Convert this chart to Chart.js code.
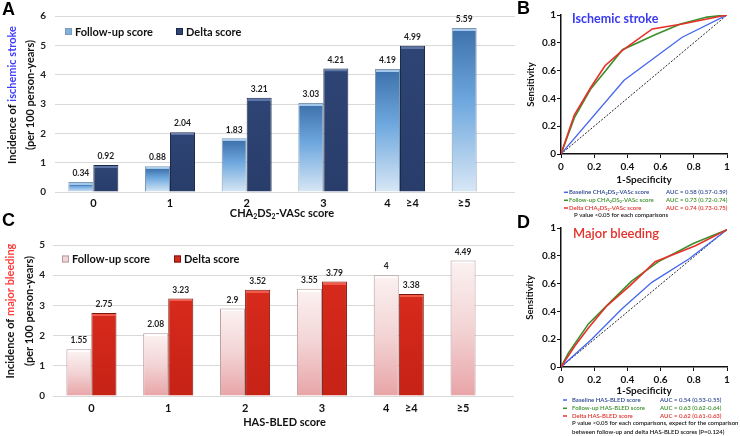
<!DOCTYPE html>
<html>
<head>
<meta charset="utf-8">
<script src="https://cdn.jsdelivr.net/npm/chart.js"></script>
<style>
  html, body { margin: 0; padding: 0; background: #fff; }
  #wrap { position: relative; width: 740px; height: 436px; overflow: hidden; }
  canvas { position: absolute; }
</style>
</head>
<body>
<div id="wrap">
  <canvas id="chartA" width="520" height="222" style="left:0;top:0"></canvas>
  <canvas id="chartC" width="520" height="228" style="left:0;top:208px"></canvas>
  <canvas id="chartB" width="240" height="222" style="left:500px;top:0"></canvas>
  <canvas id="chartD" width="240" height="222" style="left:500px;top:214px"></canvas>
</div>
<script>
// ---- data ----
const scoreGroupTicks = ['0', '1', '2', '3', '', ''];
const followUpTicks = ['', '', '', '', '4', '≥5'];
const deltaTicks = ['', '', '', '', '≥4', ''];

const strokeFollowUp = [0.34, 0.88, 1.83, 3.03, 4.19, 5.59];
const strokeDelta = [0.92, 2.04, 3.21, 4.21, 4.99, null];
const bleedFollowUp = [1.55, 2.08, 2.9, 3.55, 4, 4.49];
const bleedDelta = [2.75, 3.23, 3.52, 3.79, 3.38, null];

const barLegend = ['Follow-up score', 'Delta score'];

// ROC curves (1-specificity / sensitivity)
const diagFpr = [0, 1];
const diagTpr = [0, 1];
const strokeBaseFpr = [0, 0.38, 0.73, 1];
const strokeBaseTpr = [0, 0.53, 0.84, 1];
const strokeFollowFpr = [0, 0.08, 0.18, 0.27, 0.37, 0.57, 0.72, 0.88, 1];
const strokeFollowTpr = [0, 0.26, 0.47, 0.6, 0.75, 0.86, 0.935, 0.985, 1];
const strokeDeltaFpr = [0, 0.08, 0.18, 0.265, 0.37, 0.55, 0.73, 1];
const strokeDeltaTpr = [0, 0.28, 0.48, 0.635, 0.745, 0.9, 0.935, 1];

const bleedDiagTpr = [0, 0.99];
const bleedBaseFpr = [0, 0.185, 0.366, 0.547, 0.77, 1];
const bleedBaseTpr = [0, 0.2, 0.417, 0.609, 0.777, 0.988];
const bleedFollowFpr = [0, 0.044, 0.165, 0.3, 0.427, 0.587, 0.8, 1];
const bleedFollowTpr = [0, 0.1, 0.31, 0.47, 0.62, 0.758, 0.89, 0.988];
const bleedDeltaFpr = [0, 0.085, 0.165, 0.276, 0.416, 0.567, 0.81, 1];
const bleedDeltaTpr = [0, 0.155, 0.28, 0.44, 0.585, 0.758, 0.873, 0.988];

const strokeRocNames = ['Baseline CHA_2DS_2-VASc score', 'Follow-up CHA_2DS_2-VASc score', 'Delta CHA_2DS_2-VASc score'];
const strokeAuc = ['AUC = 0.58 (0.57-0.59)', 'AUC = 0.73 (0.72-0.74)', 'AUC = 0.74 (0.73-0.75)'];
const strokeNotes = ['P value <0.05 for each comparisons'];
const bleedRocNames = ['Baseline HAS-BLED score', 'Follow-up HAS-BLED score', 'Delta HAS-BLED score'];
const bleedAuc = ['AUC = 0.54 (0.53-0.55)', 'AUC = 0.63 (0.62-0.64)', 'AUC = 0.62 (0.61-0.63)'];
const bleedNotes = ['P value <0.05 for each comparisons, expect for the comparison',
  'between follow-up and delta HAS-BLED scores (P=0.124)'];

const rocLineColors = ['#4466ee', '#3a8f2a', '#e8302a'];
const rocTextColors = ['#2b4590', '#3a8f2a', '#e0302a'];

// ---- helpers ----
function font(size, weight) {
  return (weight || 'bold') + ' ' + size + 'px Lato';
}

// segments: [[text, color], ...]; "_2" marks a subscript 2
function drawRich(ctx, segments, x, y, size, weight, align) {
  const parts = [];
  segments.forEach(([t, c]) => {
    t.split(/(_\d)/).filter(Boolean).forEach(p => {
      if (p[0] === '_') parts.push({ t: p.slice(1), c: c, sub: true });
      else parts.push({ t: p, c: c, sub: false });
    });
  });
  ctx.save();
  ctx.textBaseline = 'middle';
  ctx.textAlign = 'left';
  const fontOf = p => font(p.sub ? size * 0.62 : size, weight);
  const widths = parts.map(p => { ctx.font = fontOf(p); return ctx.measureText(p.t).width; });
  const total = widths.reduce((a, b) => a + b, 0);
  let cx = align === 'center' ? x - total / 2 : x;
  parts.forEach((p, i) => {
    ctx.font = fontOf(p);
    ctx.fillStyle = p.c;
    ctx.fillText(p.t, cx, p.sub ? y + size * 0.3 : y);
    cx += widths[i];
  });
  ctx.restore();
}

// vertical gradient for each bar, with a light strip along its top edge
function barFill(strip, stops) {
  return function (context) {
    const chart = context.chart;
    if (!chart.chartArea || context.raw == null) return stops[0][1];
    const ys = chart.scales.y;
    const top = ys.getPixelForValue(context.raw);
    const bottom = ys.getPixelForValue(0);
    const h = Math.max(bottom - top, 1);
    const g = chart.ctx.createLinearGradient(0, top, 0, bottom);
    const s = Math.min(3 / h, 0.4);
    g.addColorStop(0, strip);
    g.addColorStop(s * 0.99, strip);
    g.addColorStop(s, stops[0][1]);
    stops.forEach(([pos, col]) => { if (pos > s) g.addColorStop(pos, col); });
    return g;
  };
}

function barPanel(canvasId, p) {
  const annotate = {
    id: 'annotate',
    afterDatasetsDraw(chart) {
      const c = chart.ctx, area = chart.chartArea, xs = chart.scales.x;
      const metas = [chart.getDatasetMeta(0), chart.getDatasetMeta(1)];
      c.save();
      c.textAlign = 'center';
      c.textBaseline = 'middle';

      // value labels
      c.font = font(8.5);
      c.fillStyle = '#222';
      metas.forEach((meta, d) => {
        meta.data.forEach((bar, i) => {
          const v = chart.data.datasets[d].data[i];
          if (v == null) return;
          c.fillText(String(v), bar.x, bar.y - 8.5);
        });
      });

      // category labels
      c.font = font(11);
      c.fillStyle = '#111';
      const ty = area.bottom + p.tickGap;
      scoreGroupTicks.forEach((t, i) => { if (t) c.fillText(t, xs.getPixelForValue(i), ty); });
      followUpTicks.forEach((t, i) => { if (t) c.fillText(t, metas[0].data[i].x, ty); });
      deltaTicks.forEach((t, i) => { if (t) c.fillText(t, metas[1].data[i].x, ty); });

      // x title
      drawRich(c, [[p.xTitle, '#111']], (area.left + area.right) / 2 + p.xTitleShift, area.bottom + p.titleGap, 11, 'bold', 'center');

      // y title, two rotated lines
      c.save();
      c.translate(p.yTitleX[0], p.yTitleY);
      c.rotate(-Math.PI / 2);
      drawRich(c, p.yTitle1, 0, 0, 11, 'bold', 'center');
      c.restore();
      c.save();
      c.translate(p.yTitleX[1], p.yTitleY);
      c.rotate(-Math.PI / 2);
      drawRich(c, [['(per 100 person-years)', '#111']], 0, 0, 11, 'bold', 'center');
      c.restore();

      // legend inside plot
      barLegend.forEach((label, i) => {
        const lx = p.legendX[i], ly = p.legendY;
        c.fillStyle = p.legendFill[i];
        c.fillRect(lx, ly - 3.5, 7, 7);
        c.strokeStyle = p.border[i];
        c.lineWidth = 1;
        c.strokeRect(lx + 0.5, ly - 3, 6, 6);
        c.fillStyle = '#111';
        c.font = font(11);
        c.textAlign = 'left';
        c.fillText(label, lx + 10, ly + 0.5);
      });

      // panel letter
      c.font = 'bold 18px "Liberation Sans"';
      c.textAlign = 'left';
      c.fillStyle = '#000';
      c.fillText(p.letter, p.letterX, p.letterY);
      c.restore();
    }
  };

  return new Chart(document.getElementById(canvasId), {
    type: 'bar',
    data: {
      labels: scoreGroupTicks,
      datasets: [
        { label: barLegend[0], data: p.followUp, backgroundColor: p.fill[0], borderColor: p.border[0], borderWidth: 1 },
        { label: barLegend[1], data: p.delta, backgroundColor: p.fill[1], borderColor: p.border[1], borderWidth: 1 }
      ]
    },
    options: {
      responsive: false,
      animation: false,
      devicePixelRatio: 1,
      layout: { padding: { top: p.top, right: p.right, left: 0, bottom: 0 } },
      datasets: { bar: { categoryPercentage: 0.652, barPercentage: 1 } },
      plugins: { legend: { display: false }, tooltip: { enabled: false } },
      scales: {
        x: {
          grid: { display: false },
          border: { display: false },
          ticks: { display: false },
          afterFit: s => { s.height = p.xAxisH; }
        },
        y: {
          min: 0, max: p.yMax,
          ticks: { stepSize: 1, padding: p.yPad, color: '#222', font: { family: 'Lato', weight: 'bold', size: 10 } },
          grid: { color: '#d9d9d9', drawTicks: false },
          border: { display: false },
          afterFit: s => { s.width = p.yAxisW; }
        }
      }
    },
    plugins: [annotate]
  });
}

function rocPanel(canvasId, p) {
  const annotate = {
    id: 'rocText',
    afterDraw(chart) {
      const c = chart.ctx, area = chart.chartArea;
      c.save();
      c.textBaseline = 'middle';

      c.font = p.titleFont;
      c.fillStyle = p.titleColor;
      c.textAlign = 'left';
      c.fillText(p.title, p.titleX, p.titleY);

      c.fillStyle = '#111';
      c.textAlign = 'center';
      c.font = font(10);
      c.fillText('1-Specificity', (area.left + area.right) / 2, area.bottom + p.xTitleGap);
      c.save();
      c.translate(p.yTitleX, (area.top + area.bottom) / 2);
      c.rotate(-Math.PI / 2);
      c.font = font(9.5);
      c.fillText('Sensitivity', 0, 0);
      c.restore();

      // legend block under the plot
      p.names.forEach((name, i) => {
        const ly = p.rowY[i];
        c.strokeStyle = rocLineColors[i];
        c.lineWidth = 1.5;
        c.beginPath();
        c.moveTo(p.dashX, ly);
        c.lineTo(p.dashX + 4, ly);
        c.stroke();
        drawRich(c, [[name, rocTextColors[i]]], p.nameX, ly, 6, '600', 'left');
        drawRich(c, [[p.auc[i], rocTextColors[i]]], p.aucX, ly, 6, '600', 'left');
      });
      p.notes.forEach((note, i) => {
        drawRich(c, [[note, '#111']], p.noteX, p.noteY[i], 6, '600', 'left');
      });

      c.font = 'bold 18px "Liberation Sans"';
      c.textAlign = 'left';
      c.fillStyle = '#000';
      c.fillText(p.letter, p.letterX, p.letterY);
      c.restore();
    }
  };

  const tickFont = { family: 'Lato', weight: 'bold', size: 10 };
  const axis = (afterFit, pad) => ({
    type: 'linear', min: 0, max: 1,
    ticks: {
      stepSize: 0.2, padding: pad, color: '#111', font: tickFont, maxRotation: 0, autoSkip: false,
      callback: v => String(Number(v.toFixed(1)))
    },
    grid: { drawOnChartArea: false, drawTicks: true, tickLength: 4, color: '#111', lineWidth: 1 },
    border: { display: true, color: '#111', width: 1.5 },
    afterFit: afterFit
  });

  return new Chart(document.getElementById(canvasId), {
    type: 'scatter',
    data: {
      datasets: p.series.map(s => ({
        data: s.fpr.map((x, i) => ({ x: x, y: s.tpr[i] })),
        borderColor: s.color,
        borderWidth: s.width,
        borderDash: s.dash || [],
        showLine: true,
        pointRadius: 0,
        fill: false,
        tension: 0
      }))
    },
    options: {
      responsive: false,
      animation: false,
      devicePixelRatio: 1,
      layout: { padding: { top: p.top, right: p.right, left: 0, bottom: 0 } },
      plugins: { legend: { display: false }, tooltip: { enabled: false } },
      scales: {
        x: axis(s => { s.height = p.xAxisH; }, 3),
        y: axis(s => { s.width = p.yAxisW; }, 1)
      }
    },
    plugins: [annotate]
  });
}

// ---- panel A ----
barPanel('chartA', {
  letter: 'A', letterX: 2, letterY: 10,
  followUp: strokeFollowUp, delta: strokeDelta, yMax: 6,
  top: 16, right: 5, yAxisW: 55, xAxisH: 30, yPad: 9,
  tickGap: 11, titleGap: 21, xTitleShift: -3,
  xTitle: 'CHA_2DS_2-VASc score',
  yTitle1: [['Incidence of ', '#111'], ['ischemic stroke', '#3d3dff']],
  yTitleX: [12, 30], yTitleY: 95,
  legendX: [65, 176], legendY: 31.5,
  fill: [
    barFill('#a3c8ec', [[0, '#3f73ad'], [0.45, '#6ea8de'], [1, '#d8e7f5']]),
    barFill('#5d75a7', [[0, '#2e4474'], [1, '#283d6a']])
  ],
  legendFill: ['#7fb0e0', '#2e4474'],
  border: ['#7f98b3', '#1b2a4a']
});

// ---- panel C ----
barPanel('chartC', {
  letter: 'C', letterX: 2, letterY: 13,
  followUp: bleedFollowUp, delta: bleedDelta, yMax: 5,
  top: 37, right: 6, yAxisW: 53, xAxisH: 40, yPad: 8,
  tickGap: 12, titleGap: 26, xTitleShift: 1,
  xTitle: 'HAS-BLED score',
  yTitle1: [['Incidence of ', '#111'], ['major bleeding', '#ff3a3a']],
  yTitleX: [10, 29], yTitleY: 103,
  legendX: [62, 174], legendY: 51,
  fill: [
    barFill('#ffffff', [[0, '#fbf0f0'], [0.5, '#f3d4d5'], [1, '#e8a4a7']]),
    barFill('#f25a4a', [[0, '#d62a1c'], [1, '#c62216']])
  ],
  legendFill: ['#f2d6d7', '#d62a1c'],
  border: ['#b79a9b', '#7d150d']
});

// ---- panel B ----
rocPanel('chartB', {
  letter: 'B', letterX: 17, letterY: 9,
  top: 15, right: 13, yAxisW: 61, xAxisH: 68,
  title: 'Ischemic stroke', titleFont: 'bold 12.5px Lato', titleColor: '#3a3af0', titleX: 72, titleY: 19,
  xTitleGap: 26, yTitleX: 31,
  names: strokeRocNames, auc: strokeAuc, notes: strokeNotes,
  dashX: 64, nameX: 69, aucX: 166, rowY: [192.3, 200.3, 208], noteX: 74, noteY: [215.5],
  series: [
    { fpr: strokeDeltaFpr, tpr: strokeDeltaTpr, color: rocLineColors[2], width: 1.6 },
    { fpr: strokeFollowFpr, tpr: strokeFollowTpr, color: rocLineColors[1], width: 1.6 },
    { fpr: strokeBaseFpr, tpr: strokeBaseTpr, color: rocLineColors[0], width: 1.3 },
    { fpr: diagFpr, tpr: diagTpr, color: '#222', width: 1, dash: [2, 1.5] }
  ]
});

// ---- panel D ----
rocPanel('chartD', {
  letter: 'D', letterX: 17, letterY: 9,
  top: 14, right: 13, yAxisW: 61, xAxisH: 69,
  title: 'Major bleeding', titleFont: '600 13px Lato', titleColor: '#e4312b', titleX: 73, titleY: 20,
  xTitleGap: 23.5, yTitleX: 30,
  names: bleedRocNames, auc: bleedAuc, notes: bleedNotes,
  dashX: 63, nameX: 72, aucX: 160, rowY: [186, 194.3, 202], noteX: 72, noteY: [209.3, 217.7],
  series: [
    { fpr: bleedDeltaFpr, tpr: bleedDeltaTpr, color: rocLineColors[2], width: 1.6 },
    { fpr: bleedFollowFpr, tpr: bleedFollowTpr, color: rocLineColors[1], width: 1.6 },
    { fpr: bleedBaseFpr, tpr: bleedBaseTpr, color: rocLineColors[0], width: 1.3 },
    { fpr: diagFpr, tpr: bleedDiagTpr, color: '#222', width: 1, dash: [2, 1.5] }
  ]
});
</script>
</body>
</html>
